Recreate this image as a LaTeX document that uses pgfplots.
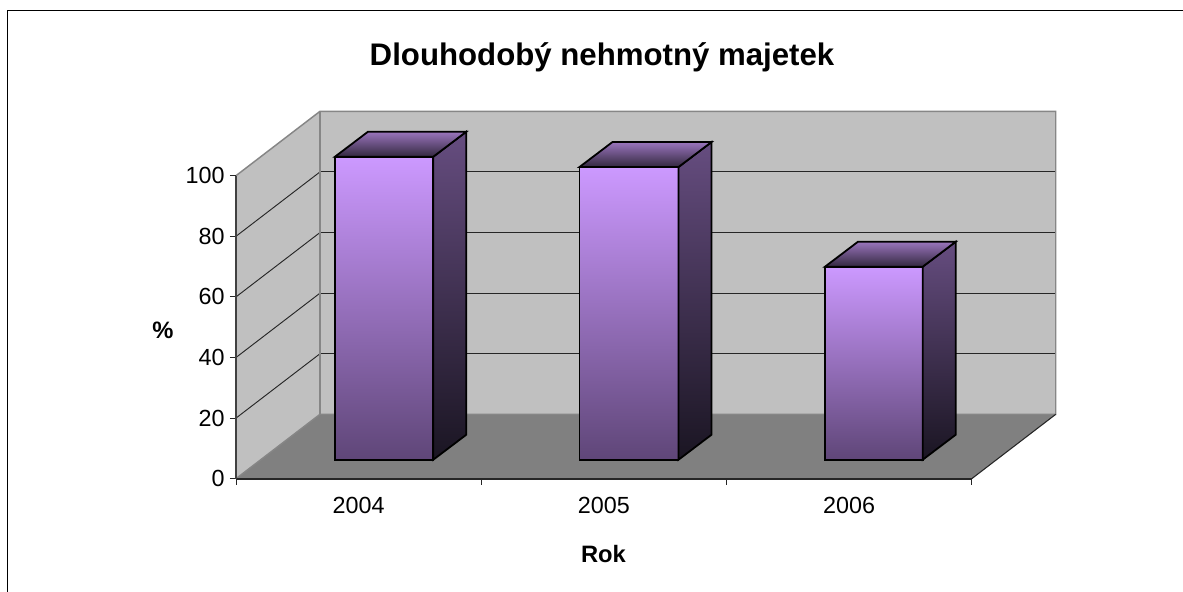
\documentclass[border=0pt]{standalone}
\usepackage{pgfplots}
\pgfplotsset{compat=1.18}
\usepackage{fontspec}
\setmainfont{Liberation Sans}
\definecolor{wallc}{HTML}{C0C0C0}
\definecolor{floorc}{HTML}{808080}
\definecolor{edgec}{HTML}{868686}
\definecolor{frontT}{HTML}{CC99FF}
\definecolor{frontB}{HTML}{5F4678}
\definecolor{sideT}{HTML}{664D80}
\definecolor{sideB}{HTML}{1A1522}
\definecolor{topT}{HTML}{9A75BD}
\definecolor{topB}{HTML}{33283F}
\pgfplotsset{
  front/.style={draw=black,line width=1.35pt,line join=miter,top color=frontT,bottom color=frontB},
  side/.style={draw=black,line width=1.35pt,line join=miter,top color=sideT,bottom color=sideB},
  topf/.style={draw=black,line width=1.35pt,line join=miter,top color=topT,bottom color=topB},
  gl/.style={draw=black!85,line width=0.7pt},
}
\begin{document}
\begin{tikzpicture}[x=0.75pt,y=0.75pt]
\useasboundingbox (0,0) rectangle (1183,592);
\fill[white] (0,0) rectangle (1183,592);
\draw[black,line width=0.9pt] (7.3,0) -- (7.3,581.3) -- (1183,581.3);
\begin{axis}[
  at={(177pt,84.975pt)},anchor=south west,
  scale only axis,width=551.8pt,height=227.25pt,
  xmin=0,xmax=3,ymin=0,ymax=100,clip=false,
  axis lines=left,axis line style={-},
  x axis line style={draw=black!85,line width=1.5pt},
  y axis line style={draw=black!75,line width=0.8pt},
  axis on top=true,
  xtick={0,1,2,3},xticklabels={},
  extra x ticks={0.5,1.5,2.5},extra x tick labels={2004,2005,2006},
  extra x tick style={major tick length=0pt,tick style={draw=none}},
  ytick={0,20,40,60,80,100},
  tick align=outside,major tick length=4.5pt,
  tick style={draw=black!85,line width=0.7pt},
  /pgf/number format/assume math mode=true,
  tick label style={font=\fontsize{17.5}{20}\selectfont,text=black},
  x tick label style={yshift=-10pt},
  y tick label style={xshift=-0.5pt},
  title={Dlouhodobý nehmotný majetek},
  title style={font=\fontsize{23.4}{28}\bfseries\selectfont,at={(axis description cs:0.4975,1.366)},anchor=center},
  xlabel={Rok},
  xlabel style={font=\fontsize{17.8}{21}\bfseries\selectfont,at={(axis description cs:0.4995,-0.2485)},anchor=center},
  ylabel={\%},
  ylabel style={font=\fontsize{17.8}{21}\bfseries\selectfont,rotate=-90,at={(axis description cs:-0.0992,0.4908)},anchor=center},
]
% walls and floor
\addplot[fill=wallc,draw=none] coordinates {(0,0)(0.3426,21.25)(0.3426,121.25)(0,100)} --cycle;
\addplot[fill=wallc,draw=none] coordinates {(0.3426,21.25)(3.3426,21.25)(3.3426,121.25)(0.3426,121.25)} --cycle;
\addplot[fill=floorc,draw=none] coordinates {(0,0)(3,0)(3.3426,21.25)(0.3426,21.25)} --cycle;
% gridlines, left wall
\addplot[gl] coordinates {(0,20)(0.3426,41.25)};
\addplot[gl] coordinates {(0,40)(0.3426,61.25)};
\addplot[gl] coordinates {(0,60)(0.3426,81.25)};
\addplot[gl] coordinates {(0,80)(0.3426,101.25)};
% gridlines, back wall
\addplot[gl] coordinates {(0.3426,41.25)(3.3426,41.25)};
\addplot[gl] coordinates {(0.3426,61.25)(3.3426,61.25)};
\addplot[gl] coordinates {(0.3426,81.25)(3.3426,81.25)};
\addplot[gl] coordinates {(0.3426,101.25)(3.3426,101.25)};
% wall edges
\addplot[draw=edgec,line width=1.1pt] coordinates {(0,100)(0.3426,121.25)(3.3426,121.25)(3.3426,21.25)(0.3426,21.25)(0,0)};
\addplot[draw=edgec,line width=1.1pt] coordinates {(0.3426,121.25)(0.3426,21.25)};
\addplot[draw=black!85,line width=0.8pt] coordinates {(3,0)(3.3426,21.25)};
% 2004: value 100
\addplot[front] coordinates {(0.4037,6.27)(0.8045,6.27)(0.8045,106.27)(0.4037,106.27)} --cycle;
\addplot[side] coordinates {(0.8045,6.27)(0.9391,14.52)(0.9391,114.52)(0.8045,106.27)} --cycle;
\addplot[topf] coordinates {(0.4037,106.27)(0.8045,106.27)(0.9391,114.52)(0.5383,114.52)} --cycle;
% 2005: value 96.6
\addplot[front] coordinates {(1.4007,6.27)(1.8045,6.27)(1.8045,102.87)(1.4007,102.87)} --cycle;
\addplot[side] coordinates {(1.8045,6.27)(1.9391,14.52)(1.9391,111.12)(1.8045,102.87)} --cycle;
\addplot[topf] coordinates {(1.4007,102.87)(1.8045,102.87)(1.9391,111.12)(1.5353,111.12)} --cycle;
% 2006: value 63.7
\addplot[front] coordinates {(2.4018,6.27)(2.8003,6.27)(2.8003,69.97)(2.4018,69.97)} --cycle;
\addplot[side] coordinates {(2.8003,6.27)(2.9349,14.52)(2.9349,78.22)(2.8003,69.97)} --cycle;
\addplot[topf] coordinates {(2.4018,69.97)(2.8003,69.97)(2.9349,78.22)(2.5364,78.22)} --cycle;
\end{axis}
\end{tikzpicture}
\end{document}
